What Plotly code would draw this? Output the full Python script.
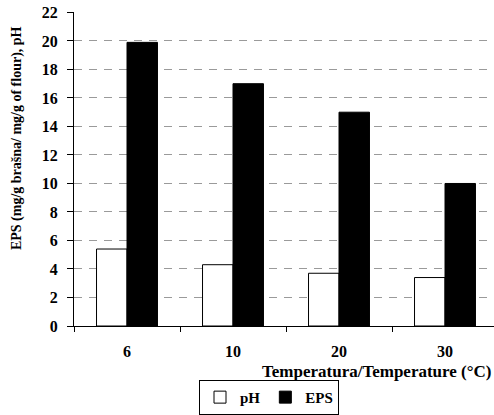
import plotly.graph_objects as go

categories = ["6", "10", "20", "30"]
ph_values = [5.4, 4.3, 3.7, 3.4]
eps_values = [19.9, 17.0, 15.0, 10.0]
y_ticks = list(range(0, 23, 2))

W, H = 494, 415
plot_left, plot_top, plot_bottom = 74, 12, 325.7
ml, mr, mt = plot_left, 0, plot_top
ph_ = plot_bottom - plot_top
mb = H - mt - ph_
pw = W - ml - mr

FAM = "'Times New Roman', 'Liberation Serif', 'DejaVu Serif', serif"
font = dict(family=FAM, size=14, color="black")

xpos = list(range(len(categories)))

fig = go.Figure()
fig.add_trace(go.Bar(x=xpos, y=ph_values, name="<b>pH</b>",
                     marker=dict(color="white", line=dict(color="black", width=1))))
fig.add_trace(go.Bar(x=xpos, y=eps_values, name="<b>EPS</b>",
                     marker=dict(color="black", line=dict(color="black", width=1))))

fig.update_layout(
    width=W, height=H,
    margin=dict(l=ml, r=mr, t=mt, b=mb),
    paper_bgcolor="white", plot_bgcolor="white",
    barmode="group", bargap=0.425, bargroupgap=0,
    font=font,
    showlegend=True,
    legend=dict(orientation="h", x=(199 - plot_left) / pw, xanchor="left",
                y=(plot_bottom - 414.5) / ph_, yanchor="bottom",
                bordercolor="black", borderwidth=1, bgcolor="white",
                font=dict(size=15, family=FAM, color="black"),
                itemwidth=30, tracegroupgap=0),
)

fig.update_xaxes(
    range=[-0.5, -0.5 + pw / 106.0],
    tickvals=xpos, ticktext=["<b>%s</b>" % c for c in categories], ticks="",
    showline=True, linecolor="black", linewidth=1,
    showgrid=False, zeroline=False,
    tickfont=dict(size=16, family=FAM, color="black"),
    minor=dict(tick0=0.5, dtick=1, ticks="outside", ticklen=5, tickcolor="black", showgrid=False),
    ticklabelstandoff=11,
)
fig.update_yaxes(
    range=[0, 22.03], tickvals=y_ticks, ticktext=["<b>%d</b>" % v for v in y_ticks],
    showline=True, linecolor="black", linewidth=1,
    ticks="outside", ticklen=6, tickcolor="black",
    showgrid=True, gridcolor="#9a9a9a", griddash="8px,7px", gridwidth=1,
    zeroline=False,
    ticklabelstandoff=6,
    tickfont=dict(size=16, family=FAM, color="black"),
)

fig.add_annotation(text="<b>Temperatura/Temperature (°C)</b>", xref="paper", yref="paper",
                   x=1.0, xanchor="right", y=(plot_bottom - 371) / ph_, yanchor="middle",
                   showarrow=False, font=dict(size=17, family=FAM, color="black"))
fig.add_annotation(text="<b>EPS (mg/g brašna/ mg/g of flour), pH</b>", xref="paper", yref="paper",
                   x=(17 - plot_left) / pw, xanchor="center", y=(plot_bottom - 138) / ph_, yanchor="middle",
                   textangle=-90, showarrow=False,
                   font=dict(size=14, family=FAM, color="black"))

fig.write_html("out.html", config={"displayModeBar": False},
               post_script="document.body.style.margin='0';document.body.style.overflow='hidden';")
